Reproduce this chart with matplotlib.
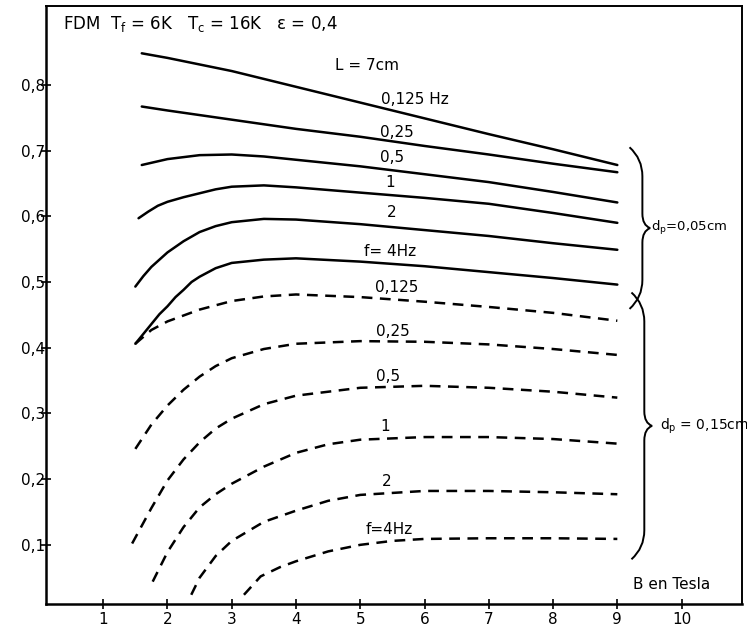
import matplotlib
matplotlib.use("Agg")
import matplotlib.pyplot as plt
from matplotlib.path import Path
from matplotlib.patches import PathPatch

# Magnetic field B (Tesla) and curve values, particle diameter d_p = 0.05 cm (solid)
b_005_0125 = [1.6, 2, 3, 4, 5, 6, 7, 8, 9]
v_005_0125 = [0.848, 0.841, 0.821, 0.797, 0.773, 0.749, 0.725, 0.702, 0.678]
b_005_025 = [1.6, 2, 3, 4, 5, 6, 7, 8, 9]
v_005_025 = [0.767, 0.761, 0.747, 0.733, 0.721, 0.707, 0.694, 0.680, 0.667]
b_005_05 = [1.6, 2, 2.5, 3, 3.5, 4, 5, 6, 7, 8, 9]
v_005_05 = [0.678, 0.687, 0.693, 0.694, 0.691, 0.686, 0.676, 0.664, 0.652, 0.637, 0.621]
b_005_1 = [1.55, 1.7, 1.85, 2, 2.25, 2.5, 2.75, 3, 3.5, 4, 5, 6, 7, 8, 9]
v_005_1 = [0.597, 0.607, 0.616, 0.622, 0.629, 0.635, 0.641, 0.645, 0.647, 0.644,
           0.636, 0.628, 0.619, 0.605, 0.590]
b_005_2 = [1.5, 1.625, 1.75, 1.875, 2, 2.25, 2.5, 2.75, 3, 3.5, 4, 5, 6, 7, 8, 9]
v_005_2 = [0.493, 0.509, 0.523, 0.534, 0.545, 0.562, 0.576, 0.585, 0.591, 0.596,
           0.595, 0.588, 0.579, 0.570, 0.559, 0.549]
b_005_4 = [1.5, 1.625, 1.75, 1.875, 2, 2.125, 2.25, 2.375, 2.5, 2.75, 3, 3.5, 4, 5, 6, 7, 8, 9]
v_005_4 = [0.406, 0.421, 0.436, 0.451, 0.463, 0.477, 0.488, 0.500, 0.508, 0.521,
           0.529, 0.534, 0.536, 0.531, 0.524, 0.515, 0.506, 0.496]

# d_p = 0.15 cm (dashed)
b_015_0125 = [1.5, 1.75, 2, 2.5, 3, 3.5, 4, 5, 6, 7, 8, 9]
v_015_0125 = [0.406, 0.427, 0.440, 0.458, 0.471, 0.478, 0.481, 0.477, 0.470, 0.462, 0.453, 0.441]
b_015_025 = [1.5, 1.75, 2, 2.25, 2.5, 2.75, 3, 3.5, 4, 5, 6, 7, 8, 9]
v_015_025 = [0.246, 0.283, 0.312, 0.336, 0.356, 0.372, 0.384, 0.398, 0.406, 0.410,
             0.409, 0.405, 0.398, 0.389]
b_015_05 = [1.45, 1.75, 2, 2.25, 2.5, 2.75, 3, 3.5, 4, 5, 6, 7, 8, 9]
v_015_05 = [0.102, 0.156, 0.198, 0.230, 0.256, 0.277, 0.292, 0.314, 0.327, 0.339,
            0.342, 0.339, 0.333, 0.324]
b_015_1 = [1.77, 2, 2.25, 2.5, 2.75, 3, 3.5, 4, 4.5, 5, 6, 7, 8, 9]
v_015_1 = [0.044, 0.089, 0.127, 0.157, 0.177, 0.193, 0.219, 0.240, 0.253, 0.260,
           0.264, 0.264, 0.261, 0.254]
b_015_2 = [2.37, 2.5, 2.75, 3, 3.5, 4, 4.5, 5, 6, 7, 8, 9]
v_015_2 = [0.024, 0.050, 0.083, 0.106, 0.135, 0.152, 0.167, 0.176, 0.182, 0.182, 0.180, 0.177]
b_015_4 = [3.19, 3.45, 3.75, 4, 4.5, 5, 5.5, 6, 7, 8, 9]
v_015_4 = [0.024, 0.052, 0.066, 0.075, 0.090, 0.100, 0.106, 0.109, 0.110, 0.110, 0.109]

# curve labels: text, B position, value position
labels_005 = ["0,125 Hz", "0,25", "0,5", "1", "2", "f= 4Hz"]
label_b_005 = [5.85, 5.57, 5.50, 5.46, 5.49, 5.46]
label_v_005 = [0.777, 0.728, 0.689, 0.651, 0.605, 0.546]
labels_015 = ["0,125", "0,25", "0,5", "1", "2", "f=4Hz"]
label_b_015 = [5.57, 5.51, 5.44, 5.39, 5.41, 5.45]
label_v_015 = [0.491, 0.425, 0.356, 0.280, 0.196, 0.123]

x_ticks = [1, 2, 3, 4, 5, 6, 7, 8, 9, 10]
y_ticks = [0.1, 0.2, 0.3, 0.4, 0.5, 0.6, 0.7, 0.8]
y_tick_labels = ["0,1", "0,2", "0,3", "0,4", "0,5", "0,6", "0,7", "0,8"]

plt.rcParams["font.family"] = ["DejaVu Sans"]

fig = plt.figure(figsize=(7.47, 6.30), dpi=100)
ax = fig.add_axes([0.0616, 0.0413, 0.9317, 0.9492])

solid = [(b_005_0125, v_005_0125), (b_005_025, v_005_025), (b_005_05, v_005_05),
         (b_005_1, v_005_1), (b_005_2, v_005_2), (b_005_4, v_005_4)]
dashed = [(b_015_0125, v_015_0125), (b_015_025, v_015_025), (b_015_05, v_015_05),
          (b_015_1, v_015_1), (b_015_2, v_015_2), (b_015_4, v_015_4)]

for b, v in solid:
    ax.plot(b, v, color="black", lw=1.8, solid_capstyle="round", solid_joinstyle="round")
for b, v in dashed:
    ax.plot(b, v, color="black", lw=1.8, linestyle=(0, (4.3, 3.0)), dash_capstyle="butt")

fs = 11
for t, x, y in zip(labels_005, label_b_005, label_v_005):
    ax.text(x, y, t, ha="center", va="center", fontsize=fs)
for t, x, y in zip(labels_015, label_b_015, label_v_015):
    ax.text(x, y, t, ha="center", va="center", fontsize=fs)

ax.text(5.11, 0.83, "L = 7cm", ha="center", va="center", fontsize=fs)
ax.text(0.38, 0.892, r"FDM  $\mathrm{T_f}$ = 6K   $\mathrm{T_c}$ = 16K   ε = 0,4",
        ha="left", va="center", fontsize=12)
ax.text(9.85, 0.040, "B en Tesla", ha="center", va="center", fontsize=fs)


def curly_brace(ax, x0, y_top, y_bot, w=0.2, h=0.022):
    y_mid = 0.5 * (y_top + y_bot)
    verts = [
        (x0 - w, y_top + h), (x0, y_top + h * 0.2), (x0, y_top - h),
        (x0, y_mid + h),
        (x0, y_mid + 0.2 * h), (x0 + w * 0.6, y_mid),
        (x0, y_mid - 0.2 * h), (x0, y_mid - h),
        (x0, y_bot + h),
        (x0, y_bot - h * 0.2), (x0 - w, y_bot - h),
    ]
    codes = [Path.MOVETO, Path.CURVE3, Path.CURVE3, Path.LINETO,
             Path.CURVE3, Path.CURVE3, Path.CURVE3, Path.CURVE3,
             Path.LINETO, Path.CURVE3, Path.CURVE3]
    ax.add_patch(PathPatch(Path(verts, codes), fill=False, lw=1.4, color="black",
                           clip_on=False))
    return y_mid


ends_005 = [v[-1] for _, v in solid]
ends_015 = [v[-1] for _, v in dashed]
m1 = curly_brace(ax, 9.39, max(ends_005) + 0.005, min(ends_005) - 0.015)
m2 = curly_brace(ax, 9.42, max(ends_015) + 0.021, min(ends_015) - 0.009)
ax.text(9.52, m1, r"d$_\mathrm{p}$=0,05cm", ha="left", va="center", fontsize=9.5)
ax.text(9.66, m2, r"d$_\mathrm{p}$ = 0,15cm", ha="left", va="center", fontsize=10)

ax.set_xlim(0.11, 10.94)
ax.set_ylim(0.010, 0.920)
ax.set_xticks(x_ticks)
ax.set_yticks(y_ticks)
ax.set_yticklabels(y_tick_labels)
ax.tick_params(direction="inout", length=7, width=1.2, labelsize=11)
ax.tick_params(axis="x", pad=2)
ax.tick_params(axis="y", pad=-3)
for side in ["left", "bottom"]:
    ax.spines[side].set_linewidth(1.8)
for side in ["top", "right"]:
    ax.spines[side].set_linewidth(1.4)

fig.savefig("out.png", dpi=100, facecolor="white")
